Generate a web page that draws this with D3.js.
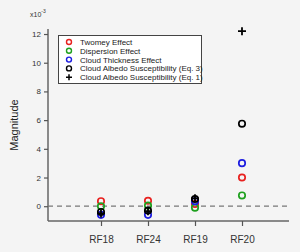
<!DOCTYPE html>
<html>
<head>
<meta charset="utf-8">
<script src="https://cdn.jsdelivr.net/npm/d3@7"></script>
<style>
  body { margin: 0; background: #f4f4f4; }
  svg { display: block; font-family: "Liberation Sans", Arial, sans-serif; }
</style>
</head>
<body>
<svg id="chart" width="300" height="252"></svg>
<script>
// flights on the x axis
var flights = ["RF18", "RF24", "RF19", "RF20"];

// values in units of 1e-3
var twomey      = [0.35, 0.38, 0.15, 2.0];
var dispersion  = [0.0, 0.05, -0.1, 0.75];
var thickness   = [-0.6, -0.6, 0.35, 3.0];
var albedoEq3   = [-0.4, -0.3, 0.5, 5.75];
var albedoEq1   = [-0.5, -0.35, 0.55, 12.2];

var yTicks = [0, 2, 4, 6, 8, 10, 12];

var series = [
  { name: "Twomey Effect", values: twomey, color: "#e8211f", shape: "circle" },
  { name: "Dispersion Effect", values: dispersion, color: "#1ea01e", shape: "circle" },
  { name: "Cloud Thickness Effect", values: thickness, color: "#1d1de0", shape: "circle" },
  { name: "Cloud Albedo Susceptibility (Eq. 3)", values: albedoEq3, color: "#000000", shape: "circle" },
  { name: "Cloud Albedo Susceptibility (Eq. 1)", values: albedoEq1, color: "#000000", shape: "plus" }
];

const svg = d3.select("#chart");
const plotLeft = 48, plotRight = 289, plotTop = 29, plotBottom = 221;

const x = d3.scalePoint().domain(flights).range([101, 242]);
const y = d3.scaleLinear().domain([-1.03, 12.35]).range([plotBottom, plotTop]);

// y axis
const yAxis = svg.append("g")
  .attr("transform", `translate(${plotLeft},0)`)
  .call(d3.axisLeft(y).tickValues(yTicks).tickSize(4).tickPadding(3));
yAxis.select(".domain").attr("d", `M0,${plotBottom}V${plotTop}`);

// x axis
const xAxis = svg.append("g")
  .attr("transform", `translate(0,${plotBottom})`)
  .call(d3.axisBottom(x).tickSize(5).tickPadding(10));
xAxis.select(".domain").attr("d", `M${plotLeft},0H${plotRight}`);

svg.selectAll(".domain").attr("stroke", "#666").attr("stroke-width", 1.5);
svg.selectAll(".tick line").attr("stroke", "#555").attr("stroke-width", 1.2);
yAxis.selectAll("text").attr("font-size", 8).attr("fill", "#333").attr("font-family", "Liberation Sans, Arial, sans-serif");
xAxis.selectAll("text").attr("font-size", 10).attr("fill", "#333").attr("font-family", "Liberation Sans, Arial, sans-serif");

// zero line
svg.append("line")
  .attr("x1", plotLeft).attr("x2", plotRight)
  .attr("y1", y(0)).attr("y2", y(0))
  .attr("stroke", "#777")
  .attr("stroke-width", 1.2)
  .attr("stroke-dasharray", "5,4");

// exponent label
const expo = svg.append("text")
  .attr("x", 30).attr("y", 17)
  .attr("font-size", 7).attr("fill", "#333");
expo.append("tspan").text("x10");
expo.append("tspan").attr("dy", -4).attr("font-size", 5).text("-3");

// y label
svg.append("text")
  .attr("transform", `translate(18,${(plotTop + plotBottom) / 2}) rotate(-90)`)
  .attr("text-anchor", "middle")
  .attr("font-size", 11)
  .attr("fill", "#222")
  .text("Magnitude");

function drawMarker(g, s, cx, cy, size) {
  if (s.shape == "circle") {
    g.append("circle")
      .attr("cx", cx).attr("cy", cy).attr("r", size * 0.8)
      .attr("fill", "none")
      .attr("stroke", s.color)
      .attr("stroke-width", 1.7);
  } else {
    g.append("path")
      .attr("d", `M${cx - size},${cy}H${cx + size}M${cx},${cy - size}V${cy + size}`)
      .attr("stroke", s.color)
      .attr("stroke-width", 1.8);
  }
}

// points
const pts = svg.append("g");
series.forEach(function (s) {
  s.values.forEach(function (v, i) {
    drawMarker(pts, s, x(flights[i]), y(v), 4);
  });
});

// legend
const lg = svg.append("g");
lg.append("rect")
  .attr("x", 58.5).attr("y", 35.5)
  .attr("width", 143).attr("height", 48)
  .attr("fill", "#fff")
  .attr("stroke", "#444")
  .attr("stroke-width", 1);
series.forEach(function (s, i) {
  const cy = 42 + i * 8.8;
  drawMarker(lg, s, 69, cy, 3);
  lg.append("text")
    .attr("x", 80).attr("y", cy + 3)
    .attr("font-size", 8)
    .attr("fill", "#222")
    .text(s.name);
});
lg.selectAll("circle").attr("r", 2.5).attr("stroke-width", 1.4);
lg.selectAll("path").attr("stroke-width", 1.5);
</script>
</body>
</html>
